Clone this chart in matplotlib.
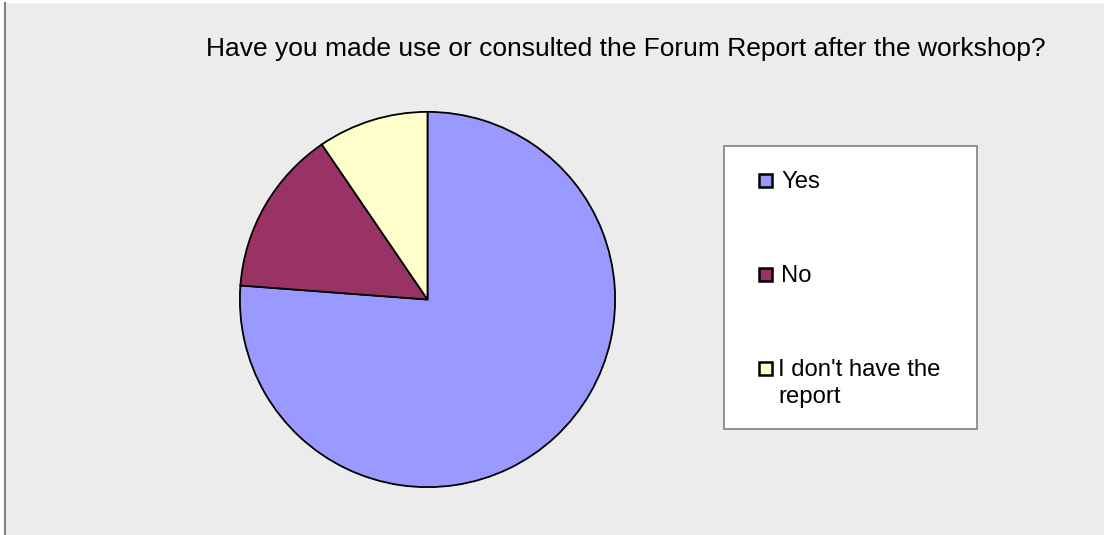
import matplotlib
matplotlib.use("Agg")
import matplotlib.pyplot as plt
from matplotlib.patches import Rectangle
from matplotlib.lines import Line2D

plt.rcParams['font.family'] = ['Liberation Sans', 'DejaVu Sans']

title = "Have you made use or consulted the Forum Report after the workshop?"
categories = ["Yes", "No", "I don't have the\nreport"]
values = [16, 3, 2]
colors = ["#9999FF", "#993366", "#FFFFCC"]

W, H = 1104, 535
fig = plt.figure(figsize=(W / 100, H / 100), dpi=100, facecolor="white")

def fx(px):
    return px / W

def fy(py):
    return 1 - py / H

# chart area background
fig.patches.append(Rectangle((fx(5), 0), 1 - fx(5), fy(3), transform=fig.transFigure,
                             facecolor="#ECECEC", edgecolor="none", zorder=-5))
fig.lines.append(Line2D([fx(5), fx(5)], [0, fy(3)], transform=fig.transFigure,
                        color="#808080", lw=1.5, zorder=-4))

# pie
cx, cy, r = 427.5, 299.5, 187.5
ax = fig.add_axes([fx(cx - r - 2), fy(cy + r + 2), fx(2 * r + 4), (2 * r + 4) / H])
ax.set_zorder(2)
ax.set_facecolor("none")
ax.pie(values, colors=colors, startangle=90, counterclock=False, radius=1.0,
       wedgeprops=dict(edgecolor="black", linewidth=1.3))
ax.set_xlim(-1.01, 1.01)
ax.set_ylim(-1.01, 1.01)
ax.set_aspect("equal")
ax.axis("off")

# title
fig.text(fx(626), fy(49), title, ha="center", va="center", fontsize=19.0, color="black")

# legend box
lx0, ly0, lx1, ly1 = 724, 146, 977, 429
fig.patches.append(Rectangle((fx(lx0), fy(ly1)), fx(lx1 - lx0), (ly1 - ly0) / H,
                             transform=fig.transFigure, facecolor="white",
                             edgecolor="#808080", lw=1.2, zorder=3))
entry_y = [180, 274, 368]
for lab, col, yy in zip(categories, colors, entry_y):
    fig.patches.append(Rectangle((fx(759), fy(yy + 7)), fx(13), 13 / H,
                                 transform=fig.transFigure, facecolor=col,
                                 edgecolor="black", lw=1.8, zorder=4))
    fig.text(fx(781) if lab != categories[2] else fx(778), fy(yy - 9), lab,
             ha="left", va="top", fontsize=17.2, color="black", zorder=5,
             linespacing=1.3)

fig.savefig("out.png", dpi=100, facecolor="white")
